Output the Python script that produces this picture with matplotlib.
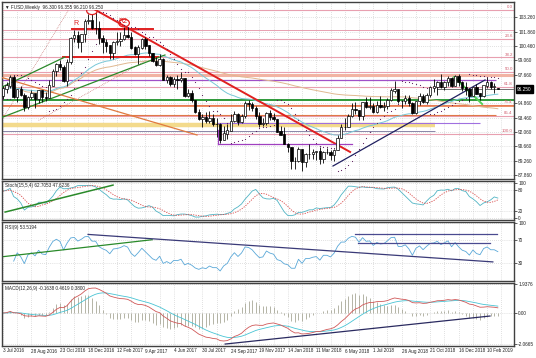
import numpy as np
import pandas as pd
import matplotlib
matplotlib.use("Agg")
import matplotlib.pyplot as plt
from matplotlib.patches import Ellipse
import matplotlib.transforms as mtransforms

plt.rcParams['font.family'] = ['Liberation Sans', 'DejaVu Sans']

# ---------------- data (weekly bars, bar 0 = 3 Jul 2016) ----------------
title_text = "\u25BC FUSD,Weekly  96.300 96.355 96.210 96.250"
opens = [95.6, 96.3, 96.6, 97.4, 95.5, 96.2, 95.7, 94.5, 95.5, 95.8, 95.3, 96.1, 95.5, 95.4, 96.6, 98.0, 98.7, 98.4, 97.0, 98.9,
         101.2, 101.5, 100.8, 101.6, 102.9, 103.0, 102.2, 102.2, 101.2, 100.8, 100.5, 99.8, 100.8, 100.9, 101.1, 101.5, 101.3, 100.3, 99.7, 100.3,
         101.1, 100.5, 99.8, 99.0, 98.6, 99.2, 97.1, 97.4, 96.7, 97.2, 97.1, 97.3, 95.6, 95.8, 95.2, 94.0, 93.3, 93.5, 93.1, 93.4,
         92.8, 92.8, 91.3, 91.9, 92.2, 93.1, 93.8, 93.0, 93.6, 94.9, 94.8, 94.4, 93.6, 92.8, 92.9, 93.9, 93.5, 93.3, 92.1, 91.8,
         90.9, 90.6, 89.2, 89.2, 90.4, 89.1, 89.9, 89.9, 90.1, 90.2, 89.4, 90.1, 90.1, 89.8, 90.3, 91.5, 92.5, 92.5, 93.6, 94.3,
         94.2, 93.6, 95.0, 94.5, 94.6, 94.0, 94.7, 94.5, 94.6, 95.2, 96.1, 96.2, 95.1, 95.1, 95.4, 94.9, 93.9, 95.1, 95.6, 95.0,
         95.7, 96.4, 96.5, 96.9, 96.5, 96.9, 97.3, 96.6, 97.5, 96.9, 96.4, 96.2, 95.6, 96.4, 95.8, 95.6, 96.6, 96.9, 96.5, 96.30]
highs = [96.6, 96.9, 97.6, 97.6, 96.3, 96.6, 95.9, 95.6, 96.2, 95.8, 96.2, 96.2, 96.0, 97.1, 98.2, 98.8, 99.1, 98.6, 99.2, 101.3,
         102.0, 101.9, 101.6, 103.1, 103.6, 103.6, 103.8, 102.9, 101.5, 101.1, 100.6, 100.9, 101.8, 101.8, 102.3, 102.3, 101.8, 100.5, 100.6, 101.2,
         101.3, 100.6, 99.8, 99.4, 99.7, 99.3, 97.6, 97.5, 97.4, 97.6, 97.9, 97.3, 96.3, 96.2, 95.2, 94.3, 93.8, 94.0, 94.1, 93.8,
         93.4, 92.9, 92.6, 92.8, 93.8, 94.1, 93.9, 93.8, 95.1, 95.2, 95.0, 94.6, 94.0, 93.4, 94.0, 94.2, 93.9, 93.3, 92.6, 92.5,
         91.0, 90.6, 89.6, 90.6, 90.4, 90.0, 90.9, 90.4, 90.2, 90.6, 90.2, 90.5, 90.3, 90.4, 91.8, 92.8, 93.4, 93.8, 94.9, 95.0,
         94.2, 95.0, 95.5, 95.5, 94.9, 95.1, 95.6, 95.0, 95.4, 96.4, 97.0, 96.2, 95.2, 95.7, 95.7, 95.0, 95.1, 95.9, 95.8, 95.9,
         96.6, 97.2, 97.0, 97.7, 97.0, 97.5, 97.4, 97.6, 97.7, 97.0, 96.9, 96.4, 96.4, 96.7, 95.9, 96.6, 97.4, 97.0, 96.8, 96.355]
lows = [95.3, 95.9, 96.4, 95.4, 95.0, 95.6, 94.1, 94.3, 95.3, 94.4, 94.9, 95.0, 95.1, 95.4, 96.6, 97.5, 98.1, 96.9, 96.6, 98.7,
        100.8, 100.3, 99.9, 100.8, 102.6, 102.1, 101.6, 100.7, 99.8, 99.9, 99.2, 99.2, 100.6, 100.5, 101.0, 101.2, 100.2, 99.6, 98.7, 100.2,
        100.2, 99.5, 98.9, 98.5, 98.5, 97.1, 96.8, 96.6, 96.5, 96.3, 96.9, 95.5, 95.5, 95.0, 93.9, 93.2, 92.5, 92.9, 92.9, 92.6,
        91.6, 91.0, 91.3, 91.4, 92.2, 93.0, 92.7, 92.9, 93.4, 94.2, 94.1, 93.3, 92.5, 92.6, 92.7, 93.2, 93.1, 92.1, 91.8, 90.9,
        90.1, 88.4, 88.4, 89.1, 88.3, 88.6, 89.4, 89.4, 89.3, 88.9, 89.0, 89.9, 89.3, 89.2, 90.3, 91.5, 92.3, 92.5, 93.5, 93.8,
        93.2, 93.2, 94.4, 94.3, 93.9, 93.9, 94.4, 94.1, 94.3, 95.1, 95.9, 94.9, 94.4, 94.8, 94.6, 93.8, 93.8, 94.7, 94.9, 94.8,
        95.5, 96.0, 95.7, 96.4, 96.2, 96.6, 96.5, 96.6, 96.6, 96.1, 95.7, 95.0, 95.6, 95.8, 95.2, 95.5, 96.4, 96.3, 95.9, 96.21]
closes = [96.3, 96.6, 97.4, 95.5, 96.2, 95.7, 94.5, 95.5, 95.8, 95.3, 96.1, 95.5, 95.4, 96.6, 98.0, 98.7, 98.4, 97.0, 98.9, 101.2,
          101.5, 100.8, 101.6, 102.9, 103.0, 102.2, 102.2, 101.2, 100.8, 100.5, 99.8, 100.8, 100.9, 101.1, 101.5, 101.3, 100.3, 99.7, 100.3, 101.1,
          100.5, 99.8, 99.0, 98.6, 99.2, 97.1, 97.4, 96.7, 97.2, 97.1, 97.3, 95.6, 95.8, 95.2, 94.0, 93.3, 93.5, 93.1, 93.4, 92.8,
          92.8, 91.3, 91.9, 92.2, 93.1, 93.8, 93.0, 93.6, 94.9, 94.8, 94.4, 93.6, 92.8, 92.9, 93.9, 93.5, 93.3, 92.1, 91.8, 90.9,
          90.6, 89.2, 89.2, 90.4, 89.1, 89.9, 89.9, 90.1, 90.2, 89.4, 90.1, 90.1, 89.8, 90.3, 91.5, 92.5, 92.5, 93.6, 94.3, 94.2,
          93.6, 95.0, 94.5, 94.6, 94.0, 94.7, 94.5, 94.6, 95.2, 96.1, 96.2, 95.1, 95.1, 95.4, 94.9, 93.9, 95.1, 95.6, 95.0, 95.7,
          96.4, 96.5, 96.9, 96.5, 96.9, 97.3, 96.6, 97.5, 96.9, 96.4, 96.2, 95.6, 96.4, 95.8, 95.6, 96.6, 96.9, 96.5, 96.5, 96.25]

x_tick_bars = [0, 8, 16, 24, 32, 40, 48, 56, 64, 72, 80, 88, 96, 104, 112, 120, 128, 136]
x_tick_labels = ["3 Jul 2016", "28 Aug 2016", "23 Oct 2016", "18 Dec 2016", "12 Feb 2017", "9 Apr 2017",
                 "4 Jun 2017", "30 Jul 2017", "24 Sep 2017", "19 Nov 2017", "14 Jan 2018", "11 Mar 2018",
                 "6 May 2018", "1 Jul 2018", "26 Aug 2018", "21 Oct 2018", "16 Dec 2018", "10 Feb 2019"]
price_ticks = [103.26, 101.86, 100.46, 99.06, 97.66, 94.86, 93.46, 92.06, 90.66, 89.26, 87.86]
last_price = 96.25

fib_labels = ["0.0", "23.6", "38.2", "50.0", "61.8", "76.4", "85.4", "100.0"]
fib_prices = [103.97, 101.11, 99.34, 97.92, 96.49, 94.72, 93.63, 91.86]

# horizontal levels: (price, first bar, last bar, color, width)
level_prices = [102.02, 97.58, 97.14, 95.18, 94.59, 93.72, 92.74, 92.15, 92.93]
level_start = [-1, -1, -1, -1, -1, -1, -1, -1, 60]
level_end = [144, 144, 138.5, 144, 144, 138.5, 121.3, 121.3, 134]
level_colors = ["#e8a0b0", "#f2b4a4", "#a050c8", "#2e9a3a", "#e8703a", "#e07848", "#f3da8c", "#8a86a8", "#a070e0"]
level_widths = [0.7, 2.2, 0.9, 1.4, 1.1, 0.8, 3.2, 0.7, 0.8]

# trendlines in (bar, value)
price_lines_x = [[25.0, 97.5], [19.4, 42.1], [16.9, 43.5], [-0.8, 45.5], [-0.8, 17.4], [-0.8, 54.5], [92.7, 135.4], [126.7, 134.6], [60.4, 98.0], [60.4, 60.4]]
price_lines_y = [[104.17, 90.11], [102.12, 102.12], [99.38, 99.38], [93.42, 99.58], [96.36, 99.38], [97.43, 91.77], [88.74, 97.14], [97.43, 94.79], [90.89, 90.89], [92.25, 90.89]]
price_lines_c = ["#e02020", "#e02020", "#e02020", "#2a8a2a", "#2a8a2a", "#e07a40", "#202060", "#55d055", "#a040c0", "#a040c0"]
price_lines_w = [1.4, 1.4, 1.4, 0.9, 0.9, 0.9, 0.9, 1.4, 0.9, 0.9]

stoch_line_x = [0.6, 30.9]
stoch_line_y = [17, 94]
rsi_lines_x = [[0, 41.9], [23.9, 137.6], [98.9, 138.8], [99.7, 136.8]]
rsi_lines_y = [[41, 70.5], [79.7, 31.9], [79.7, 79.7], [65, 65]]
rsi_lines_c = ["#2a8a2a", "#3a3a78", "#4a4a90", "#4a4a90"]
macd_line_x = [62.4, 136.8]
macd_line_y = [-2.07, -0.2]

# ---------------- indicators ----------------
o = pd.Series(opens); h = pd.Series(highs); l = pd.Series(lows); c = pd.Series(closes)
idx = np.arange(len(c))

K, D, S = 15, 5, 4
hh = h.rolling(K, min_periods=1).max(); ll = l.rolling(K, min_periods=1).min()
st_main = 100 * (c - ll).rolling(S, min_periods=1).sum() / (hh - ll).rolling(S, min_periods=1).sum()
st_sig = st_main.rolling(D, min_periods=1).mean()

delta = c.diff().fillna(0)
ag = delta.clip(lower=0).ewm(alpha=1/9, adjust=False).mean()
al = (-delta.clip(upper=0)).ewm(alpha=1/9, adjust=False).mean()
rsi = 100 - 100 / (1 + ag / al.replace(0, np.nan))

macd = c.ewm(span=12, adjust=False).mean() - c.ewm(span=26, adjust=False).mean()
macd_sig = macd.ewm(span=9, adjust=False).mean()
macd_hist = 2 * (macd - macd_sig)

ma_fast = c.ewm(span=34, adjust=False).mean()
ma_slow = c.rolling(100, min_periods=1).mean()

def psar(hi, lo, step=0.02, mx=0.2):
    n = len(hi); out = np.zeros(n)
    up = True; af = step; ep = hi[0]; sar = lo[0]; out[0] = sar
    for i in range(1, n):
        sar = sar + af * (ep - sar)
        if up:
            sar = min(sar, lo[i-1], lo[max(i-2, 0)])
            if lo[i] < sar:
                up = False; sar = ep; ep = lo[i]; af = step
            elif hi[i] > ep:
                ep = hi[i]; af = min(af + step, mx)
        else:
            sar = max(sar, hi[i-1], hi[max(i-2, 0)])
            if hi[i] > sar:
                up = True; sar = ep; ep = hi[i]; af = step
            elif lo[i] < ep:
                ep = lo[i]; af = min(af + step, mx)
        out[i] = sar
    return out

sar = psar(np.array(highs), np.array(lows))

# ---------------- figure ----------------
W, H = 536, 358
fig = plt.figure(figsize=(W/100, H/100), dpi=100)
fig.patch.set_facecolor('white')

def add_ax(top, bottom):
    return fig.add_axes([2/W, 1 - bottom/H, 512/W, (bottom - top)/H])

ax_p = add_ax(2, 179)
ax_s = add_ax(181, 220)
ax_r = add_ax(222, 281)
ax_m = add_ax(283, 346)

xlim = (-0.28, 143.54)
grid_kw = dict(color="#c4c4c4", linestyle=(0, (1, 2)), linewidth=0.5)
for ax in (ax_p, ax_s, ax_r, ax_m):
    ax.set_xlim(*xlim)
    ax.set_xticks(np.arange(0, 144, 4))
    ax.tick_params(axis='x', length=0, labelbottom=False)
    ax.yaxis.tick_right()
    ax.tick_params(axis='y', length=2, width=0.5, labelsize=3.4, pad=1, colors='#222222')
    ax.grid(True, **grid_kw)
    ax.set_axisbelow(True)
    for sp in ax.spines.values():
        sp.set_color('#404040'); sp.set_linewidth(1.0)

# price panel
ax_p.set_ylim(87.47, 104.754)
ax_p.set_yticks(price_ticks)
ax_p.set_yticklabels([f"{v:.3f}" for v in price_ticks])

for fp, lab in zip(fib_prices, fib_labels):
    ax_p.axhline(fp, color="#e8a0b0", lw=0.8, zorder=1)
    ax_p.text(143.2, fp + 0.08, lab, color="#d06070", fontsize=3.2, ha='right', va='bottom', zorder=5)

for p, s0, s1, col, w in zip(level_prices, level_start, level_end, level_colors, level_widths):
    ax_p.plot([s0, s1], [p, p], color=col, lw=w, zorder=1.5, solid_capstyle='butt')

ax_p.plot(idx, ma_slow, color="#e0b890", lw=0.7, zorder=2)
ax_p.plot(idx, ma_fast, color="#78c8d8", lw=0.7, zorder=2)

for xs, ys, col, w in zip(price_lines_x, price_lines_y, price_lines_c, price_lines_w):
    ax_p.plot(xs, ys, color=col, lw=w, zorder=3)

ax_p.plot([0, 20], [93.4, 104.9], color="#c06060", lw=0.5, ls=(0, (1, 1.5)), zorder=2)
ax_p.plot([10, 40], [93.2, 99.0], color="#c06060", lw=0.5, ls=(0, (1, 1.5)), zorder=2)

ax_p.text(19.7, 102.3, "R", color="#e02020", fontsize=5, ha='left', va='bottom', zorder=6)
ax_p.text(32.3, 102.55, "R2", color="#e02020", fontsize=5, ha='left', va='bottom', zorder=6)
ax_p.add_patch(Ellipse((25.0, 103.9), 3.0, 0.75, fill=False, ec="#e02020", lw=0.9, zorder=6))
ax_p.add_patch(Ellipse((34.0, 102.7), 3.0, 0.75, fill=False, ec="#e02020", lw=0.9, zorder=6))

# candles
up = c >= o
ax_p.vlines(idx, l, h, color='black', lw=0.6, zorder=4)
ax_p.bar(idx[up], (c - o)[up].abs() + 0.02, bottom=np.minimum(o, c)[up], width=0.68,
         color='white', edgecolor='black', linewidth=0.5, zorder=4.5)
ax_p.bar(idx[~up], (c - o)[~up].abs() + 0.02, bottom=np.minimum(o, c)[~up], width=0.68,
         color='black', edgecolor='black', linewidth=0.5, zorder=4.5)

ax_p.scatter(idx, sar, s=0.7, color="#5a1a5a", zorder=4, linewidths=0)

ax_p.plot([122, 144], [last_price, last_price], color="#707070", lw=0.7, zorder=3)
ax_p.text(1.006, last_price, f"{last_price:.3f}", transform=mtransforms.blended_transform_factory(ax_p.transAxes, ax_p.transData),
          fontsize=3.4, color='white', va='center', ha='left', clip_on=False,
          bbox=dict(boxstyle='square,pad=0.25', fc='black', ec='black'))
ax_p.text(0.006, 0.985, title_text, transform=ax_p.transAxes, fontsize=3.3, va='top', ha='left', color='#222222',
          bbox=dict(boxstyle='square,pad=0.1', fc='white', ec='none'), zorder=7)

# stochastic
ax_s.set_ylim(-5.7, 105.7)
ax_s.set_yticks([0, 20, 80, 100])
ax_s.plot(idx, st_main, color="#50b4c4", lw=0.6)
ax_s.plot(idx, st_sig, color="#d84848", lw=0.6, ls=(0, (1.5, 1.5)))
ax_s.plot(stoch_line_x, stoch_line_y, color="#2a8a2a", lw=1.1)
ax_s.text(0.006, 0.94, "Stoch(15,5,4) 62.7053 47.6236", transform=ax_s.transAxes, fontsize=3.3, va='top', ha='left', color='#222222')

# RSI
ax_r.set_ylim(-1.3, 101.3)
ax_r.set_yticks([30, 70, 100])
ax_r.plot(idx, rsi, color="#5aa8d8", lw=0.6)
for xs, ys, col in zip(rsi_lines_x, rsi_lines_y, rsi_lines_c):
    ax_r.plot(xs, ys, color=col, lw=0.9)
ax_r.text(0.006, 0.95, "RSI(9) 53.5194", transform=ax_r.transAxes, fontsize=3.3, va='top', ha='left', color='#222222')

# MACD
ax_m.set_ylim(-2.2, 2.004)
ax_m.set_yticks([-2.0665, 0, 1.9376])
ax_m.set_yticklabels(["-2.0665", "0.00", "1.9376"])
ax_m.vlines(idx, 0, macd_hist, color="#a8a898", lw=0.6)
ax_m.plot(idx, macd_sig, color="#48c4d4", lw=0.6)
ax_m.plot(idx, macd, color="#d05858", lw=0.6)
ax_m.plot(macd_line_x, macd_line_y, color="#2a2a60", lw=0.9)
ax_m.text(0.006, 0.95, "MACD(12,26,9) -0.1638 0.4619 0.3800", transform=ax_m.transAxes, fontsize=3.3, va='top', ha='left', color='#222222')

# date labels
tr = mtransforms.blended_transform_factory(ax_m.transData, fig.transFigure)
for b, lab in zip(x_tick_bars, x_tick_labels):
    ax_m.text(b, 1 - 351/H, lab, transform=tr, fontsize=3.3, ha='left', va='center', color='#222222', clip_on=False)

fig.savefig("out.png", dpi=100)
